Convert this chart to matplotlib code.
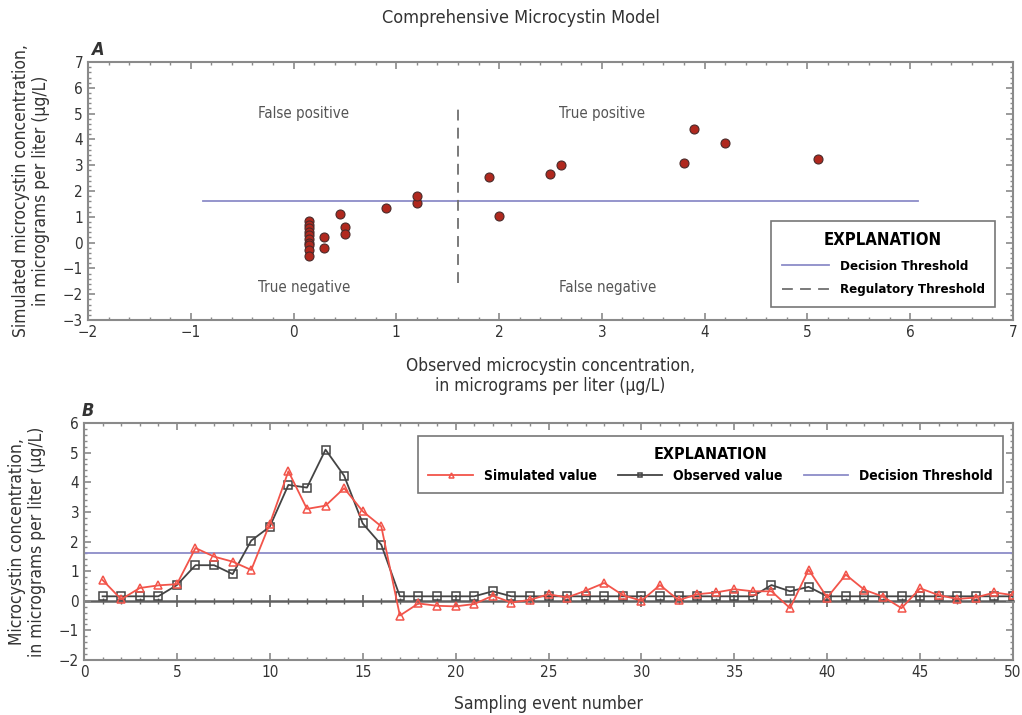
import numpy as np
import matplotlib
matplotlib.use("Agg")
import matplotlib.pyplot as plt
from matplotlib.ticker import MultipleLocator

plt.rcParams['font.family'] = ['Liberation Sans Narrow', 'DejaVu Sans']
plt.rcParams['font.stretch'] = 'condensed'

# panel A data
obs_a = [0.15, 0.15, 0.15, 0.15, 0.15, 0.15, 0.15, 0.15, 0.15, 0.15,
         0.3, 0.3, 0.45, 0.5, 0.5, 0.9, 1.2, 1.2,
         1.9, 2.0, 2.5, 2.6, 3.8, 3.9, 4.2, 5.1]
sim_a = [0.85, 0.7, 0.55, 0.4, 0.3, 0.15, 0.0, -0.1, -0.3, -0.5,
         0.2, -0.2, 1.1, 0.6, 0.35, 1.35, 1.55, 1.8,
         2.55, 1.05, 2.65, 3.0, 3.1, 4.4, 3.85, 3.25]
decision = 1.6
regulatory = 1.6

# panel B data
events = list(range(1, 51))
simulated = [0.7, 0.05, 0.43, 0.52, 0.56, 1.78, 1.49, 1.32, 1.04, 2.6,
             4.37, 3.1, 3.21, 3.8, 3.02, 2.51, -0.5, -0.09, -0.17, -0.19,
             -0.11, 0.17, -0.06, 0.03, 0.22, 0.11, 0.34, 0.6, 0.19, 0.0,
             0.53, 0.02, 0.22, 0.28, 0.39, 0.32, 0.32, -0.25, 1.05, 0.11,
             0.88, 0.37, 0.14, -0.25, 0.42, 0.19, 0.06, 0.11, 0.28, 0.19]
observed = [0.15, 0.15, 0.15, 0.15, 0.53, 1.2, 1.2, 0.9, 2.03, 2.5,
            3.91, 3.82, 5.1, 4.22, 2.61, 1.89, 0.15, 0.15, 0.15, 0.15,
            0.15, 0.32, 0.15, 0.15, 0.15, 0.15, 0.15, 0.15, 0.15, 0.15,
            0.15, 0.15, 0.15, 0.15, 0.15, 0.15, 0.53, 0.32, 0.47, 0.15,
            0.15, 0.15, 0.15, 0.15, 0.15, 0.15, 0.15, 0.15, 0.15, 0.15]

spine_c = '#8a8a8a'
text_c = '#333333'
dec_c = '#8c8cc8'


def style_axes(ax):
    for s in ax.spines.values():
        s.set_color(spine_c)
        s.set_linewidth(1.5)
    ax.tick_params(which='both', direction='in', top=True, right=True,
                   color=spine_c, labelcolor=text_c, labelsize=11)
    ax.tick_params(which='major', length=5, width=1.2)
    ax.tick_params(which='minor', length=2.5, width=1)


fig = plt.figure(figsize=(10.22, 7.15), dpi=100)
fig.text(0.51, 0.975, 'Comprehensive Microcystin Model', ha='center', va='center',
         fontsize=13, color=text_c)

# ---- panel A
ax1 = fig.add_axes([0.0861, 0.5524, 0.905, 0.3608])
ax1.set_xlim(-2, 7)
ax1.set_ylim(-3, 7)
style_axes(ax1)
ax1.xaxis.set_major_locator(MultipleLocator(1))
ax1.xaxis.set_minor_locator(MultipleLocator(0.2))
ax1.yaxis.set_major_locator(MultipleLocator(1))
ax1.yaxis.set_minor_locator(MultipleLocator(0.2))
ax1.plot([-0.88, 6.08], [decision, decision], color=dec_c, lw=1.3,
         label='Decision Threshold')
ax1.plot([regulatory, regulatory], [-1.55, 5.35], color='#707070', lw=1.3,
         dashes=(6, 4), label='Regulatory Threshold')
ax1.scatter(obs_a, sim_a, s=42, color='#b0281e', edgecolor='#4a2a2a',
            linewidth=0.8, zorder=3)
ax1.text(0.1, 5.0, 'False positive', ha='center', va='center', fontsize=10.8, color='#555555')
ax1.text(3.0, 5.0, 'True positive', ha='center', va='center', fontsize=10.8, color='#555555')
ax1.text(0.1, -1.72, 'True negative', ha='center', va='center', fontsize=10.8, color='#555555')
ax1.text(3.06, -1.72, 'False negative', ha='center', va='center', fontsize=10.8, color='#555555')
ax1.set_xlabel('Observed microcystin concentration,\nin micrograms per liter (µg/L)',
               fontsize=12.5, color=text_c, labelpad=12)
ax1.set_ylabel('Simulated microcystin concentration,\nin micrograms per liter (µg/L)',
               fontsize=12.5, color=text_c, labelpad=9)
ax1.text(0.003, 1.045, 'A', transform=ax1.transAxes, fontsize=13,
         fontweight='bold', fontstyle='italic', color=text_c, va='center')
leg1 = ax1.legend(loc='lower right', bbox_to_anchor=(0.988, 0.025), title='EXPLANATION',
                  prop={'weight': 'bold', 'size': 9.5}, handlelength=3.6,
                  fancybox=False, edgecolor='#777777', borderpad=0.8,
                  labelspacing=0.8, framealpha=1)
leg1.get_title().set_fontweight('bold')
leg1.get_title().set_fontsize(12)
leg1.get_frame().set_linewidth(1.2)

# ---- panel B
ax2 = fig.add_axes([0.0822, 0.0769, 0.909, 0.3315])
ax2.set_xlim(0, 50)
ax2.set_ylim(-2, 6)
style_axes(ax2)
ax2.xaxis.set_major_locator(MultipleLocator(5))
ax2.xaxis.set_minor_locator(MultipleLocator(1))
ax2.yaxis.set_major_locator(MultipleLocator(1))
ax2.yaxis.set_minor_locator(MultipleLocator(0.2))
zero_ax = ax2.secondary_xaxis(0.25)
zero_ax.spines['bottom'].set_color('#606060')
zero_ax.spines['bottom'].set_linewidth(1.8)
zero_ax.xaxis.set_major_locator(MultipleLocator(5))
zero_ax.xaxis.set_minor_locator(MultipleLocator(1))
zero_ax.tick_params(which='both', direction='inout', labelbottom=False, color='#606060')
zero_ax.tick_params(which='major', length=9, width=1.2)
zero_ax.tick_params(which='minor', length=5, width=1)
ax2.plot(events, simulated, color='#f2544a', lw=1.3, marker='^', ms=6,
         mfc='none', mec='#f2544a', mew=1.1, label='Simulated value', zorder=4)
ax2.plot(events, observed, color='#444444', lw=1.3, marker='s', ms=6,
         mfc='none', mec='#444444', mew=1.1, label='Observed value', zorder=3)
ax2.axhline(decision, color=dec_c, lw=1.3, label='Decision Threshold')
ax2.set_xlabel('Sampling event number', fontsize=12.5, color=text_c, labelpad=11)
ax2.set_ylabel('Microcystin concentration,\nin micrograms per liter (µg/L)',
               fontsize=12.5, color=text_c, labelpad=9)
ax2.text(-0.003, 1.05, 'B', transform=ax2.transAxes, fontsize=13,
         fontweight='bold', fontstyle='italic', color=text_c, va='center')
leg2 = ax2.legend(loc='upper right', bbox_to_anchor=(0.997, 0.973), ncol=3,
                  title='EXPLANATION', prop={'weight': 'bold', 'size': 10},
                  handlelength=3.2, fancybox=False, edgecolor='#777777',
                  borderpad=0.75, columnspacing=1.5, markerscale=0.6,
                  framealpha=1)
leg2.set_zorder(10)
leg2.get_title().set_fontweight('bold')
leg2.get_title().set_fontsize(11.5)
leg2.get_frame().set_linewidth(1.2)

fig.savefig('out.png', dpi=100)
